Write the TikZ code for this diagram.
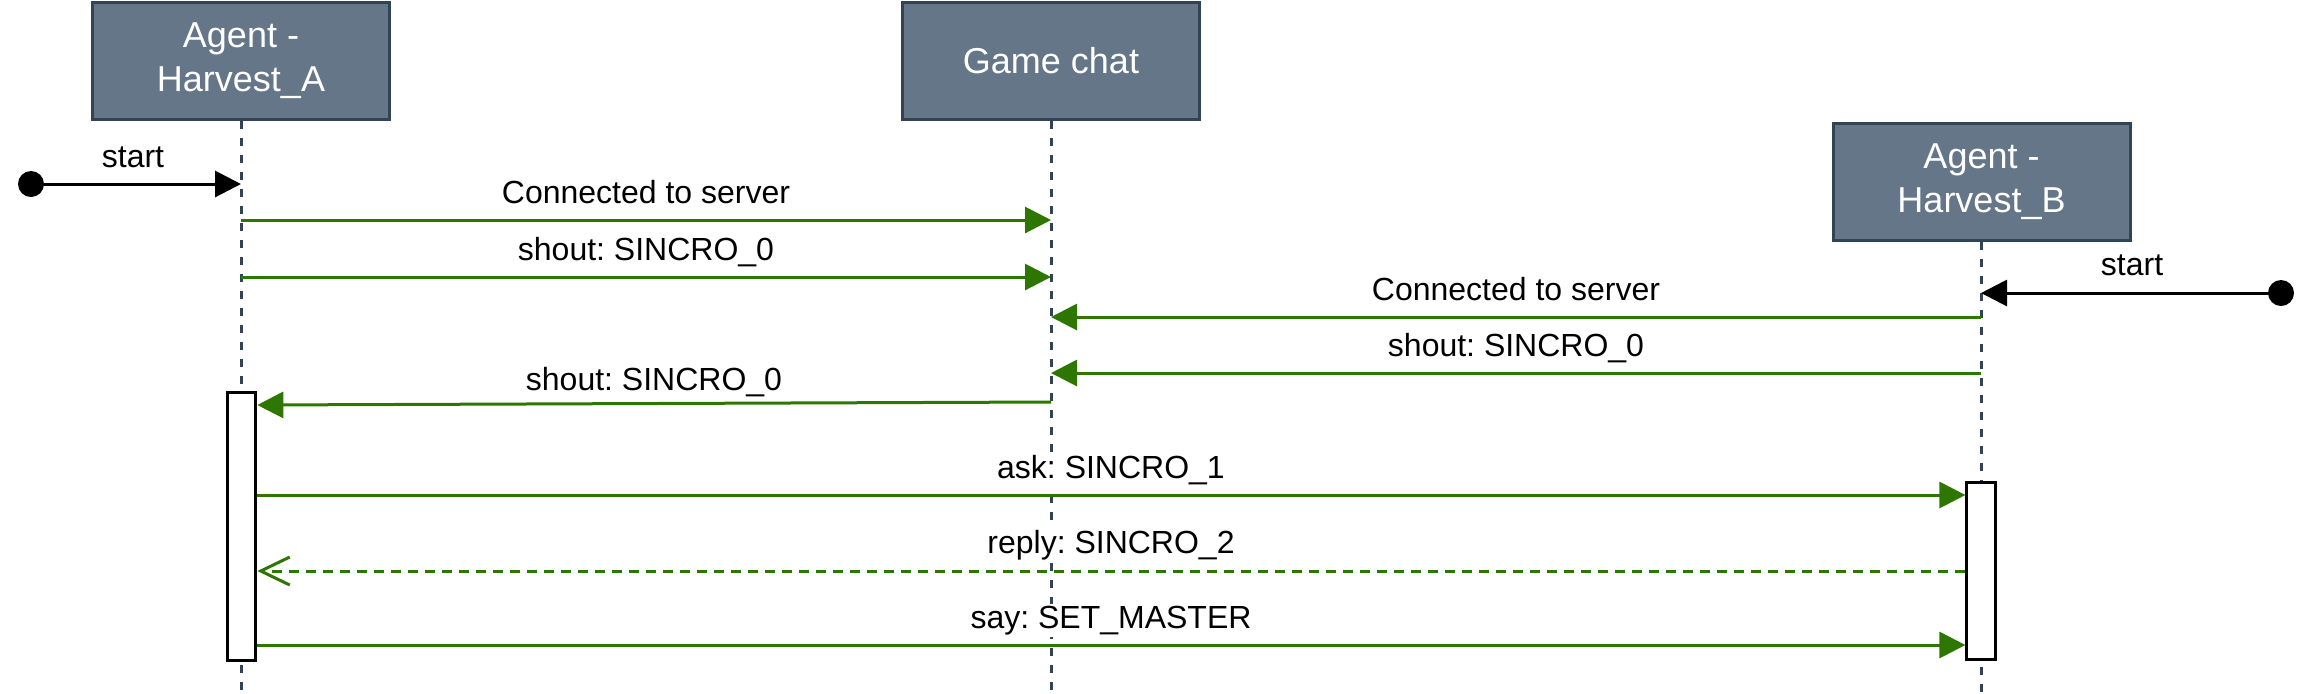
\documentclass[tikz,border=0pt]{standalone}
\usepackage{fontspec}
\setmainfont{Liberation Sans}
\usetikzlibrary{arrows.meta}
\definecolor{boxfill}{HTML}{647687}
\definecolor{boxline}{HTML}{314354}
\definecolor{msg}{HTML}{2D7600}
\frenchspacing
\begin{document}
\begin{tikzpicture}[x=0.5pt,y=-0.5pt,
  actor/.style={draw=boxline, fill=boxfill, line width=1.5pt, text=white,
    minimum width=148.5pt, minimum height=58.5pt, inner sep=0pt,
    font=\fontsize{18}{22}\selectfont, align=center},
  lifeline/.style={draw=boxline, line width=1.5pt, dash pattern=on 4pt off 4.5pt},
  activ/.style={draw=black, fill=white, line width=1.5pt, minimum width=14.3pt, inner sep=0pt},
  msgline/.style={draw=msg, line width=1.5pt, -{Triangle[length=13pt,width=13pt]}},
  replyline/.style={draw=msg, line width=1.5pt, dash pattern=on 5pt off 3.5pt,
    -{Straight Barb[length=14.5pt,width=14pt]}},
  startline/.style={draw=black, line width=1.5pt, -{Triangle[length=13pt,width=13pt]}},
  startdot/.style={circle, fill=black, minimum size=13pt, inner sep=0pt},
  lbl/.style={font=\fontsize{16}{19}\selectfont, anchor=base, fill=white, inner sep=1pt}
]
\useasboundingbox (0,0) rectangle (2316,693);

% actors
\node[actor] (A) at (241,61) {Agent -\\Harvest\_A};
\node[actor] (C) at (1051,61) {Game chat};
\node[actor] (B) at (1981.5,181.5) {Agent -\\Harvest\_B};

% lifeline ends
\coordinate (Aend) at (241,693);
\coordinate (Cend) at (1051,693);
\coordinate (Bend) at (1981,693);
\draw[lifeline] (A.south) -- (Aend);
\draw[lifeline] (C.south) -- (Cend);
\draw[lifeline] (B.south -| Bend) -- (Bend);

% activation boxes
\node[activ, minimum height=134pt] (actA) at (241.5,526.5) {};
\node[activ, minimum height=88.5pt] (actB) at (1981.2,571) {};

% points on lifelines
\coordinate (A184) at (241,184);
\coordinate (A220) at (241,220);
\coordinate (C220) at (1051,220);
\coordinate (A277) at (241,277);
\coordinate (C277) at (1051,277);
\coordinate (B293) at (1981,293);
\coordinate (B317) at (1981,317);
\coordinate (C317) at (1051,317);
\coordinate (B373) at (1981,373);
\coordinate (C373) at (1051,373);
\coordinate (C402) at (1051,402);
\coordinate (A405) at (241,405);
\coordinate (A495) at (241,495);
\coordinate (B495) at (1981,495);
\coordinate (A571) at (241,571);
\coordinate (B571) at (1981,571);
\coordinate (A645) at (241,645);
\coordinate (B645) at (1981,645);

% start markers
\node[startdot] (sA) at (31,184) {};
\node[startdot] (sB) at (2281,293) {};
\draw[startline] (sA.center) -- (A184);
\draw[startline] (sB.center) -- (B293);
\node[lbl] (lsA) at (133,167) {start};
\node[lbl] (lsB) at (2132,275) {start};

% messages
\draw[msgline] (A220) -- (C220);
\draw[msgline] (A277) -- (C277);
\draw[msgline] (B317) -- (C317);
\draw[msgline] (B373) -- (C373);
\draw[msgline] (C402) -- (A405 -| actA.east);
\draw[msgline] (A495 -| actA.east) -- (B495 -| actB.west);
\draw[replyline] (B571 -| actB.west) -- (A571 -| actA.east);
\draw[msgline] (A645 -| actA.east) -- (B645 -| actB.west);

% labels
\node[lbl] (l1) at (646,203) {Connected to server};
\node[lbl] (l2) at (646,260) {shout: SINCRO\_0};
\node[lbl] (l3) at (1516,300) {Connected to server};
\node[lbl] (l4) at (1516,356) {shout: SINCRO\_0};
\node[lbl] (l5) at (654,390) {shout: SINCRO\_0};
\node[lbl] (l6) at (1111,478) {ask: SINCRO\_1};
\node[lbl] (l7) at (1111,553) {reply: SINCRO\_2};
\node[lbl] (l8) at (1111,628) {say: SET\_MASTER};
\end{tikzpicture}
\end{document}
